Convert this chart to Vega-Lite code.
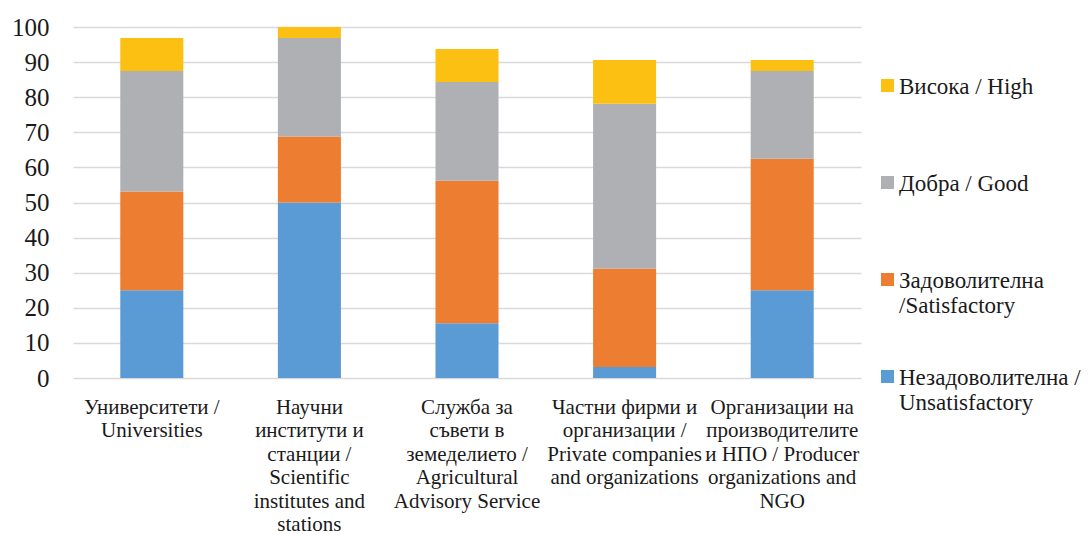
{
  "$schema": "https://vega.github.io/schema/vega-lite/v6.json",
  "width": 788,
  "height": 351,
  "autosize": {"type": "none"},
  "padding": {"left": 73, "top": 27, "right": 228, "bottom": 156},
  "background": "white",
  "config": {"view": {"stroke": null}, "font": "Liberation Serif"},
  "data": {
    "values": [
      {"cat": "Университети /|Universities", "rating": "Незадоволителна /|Unsatisfactory", "ord": 1, "value": 25},
      {"cat": "Университети /|Universities", "rating": "Задоволителна|/Satisfactory", "ord": 2, "value": 28.1},
      {"cat": "Университети /|Universities", "rating": "Добра / Good", "ord": 3, "value": 34.4},
      {"cat": "Университети /|Universities", "rating": "Висока / High", "ord": 4, "value": 9.4},
      {"cat": "Научни|институти и|станции /|Scientific|institutes and|stations", "rating": "Незадоволителна /|Unsatisfactory", "ord": 1, "value": 50},
      {"cat": "Научни|институти и|станции /|Scientific|institutes and|stations", "rating": "Задоволителна|/Satisfactory", "ord": 2, "value": 18.8},
      {"cat": "Научни|институти и|станции /|Scientific|institutes and|stations", "rating": "Добра / Good", "ord": 3, "value": 28.1},
      {"cat": "Научни|институти и|станции /|Scientific|institutes and|stations", "rating": "Висока / High", "ord": 4, "value": 3.1},
      {"cat": "Служба за|съвети в|земеделието /|Agricultural|Advisory Service", "rating": "Незадоволителна /|Unsatisfactory", "ord": 1, "value": 15.6},
      {"cat": "Служба за|съвети в|земеделието /|Agricultural|Advisory Service", "rating": "Задоволителна|/Satisfactory", "ord": 2, "value": 40.6},
      {"cat": "Служба за|съвети в|земеделието /|Agricultural|Advisory Service", "rating": "Добра / Good", "ord": 3, "value": 28.1},
      {"cat": "Служба за|съвети в|земеделието /|Agricultural|Advisory Service", "rating": "Висока / High", "ord": 4, "value": 9.4},
      {"cat": "Частни фирми и|организации /|Private companies|and organizations", "rating": "Незадоволителна /|Unsatisfactory", "ord": 1, "value": 3.1},
      {"cat": "Частни фирми и|организации /|Private companies|and organizations", "rating": "Задоволителна|/Satisfactory", "ord": 2, "value": 28.1},
      {"cat": "Частни фирми и|организации /|Private companies|and organizations", "rating": "Добра / Good", "ord": 3, "value": 46.9},
      {"cat": "Частни фирми и|организации /|Private companies|and organizations", "rating": "Висока / High", "ord": 4, "value": 12.5},
      {"cat": "Организации на|производителите|и НПО / Producer|organizations and|NGO", "rating": "Незадоволителна /|Unsatisfactory", "ord": 1, "value": 25},
      {"cat": "Организации на|производителите|и НПО / Producer|organizations and|NGO", "rating": "Задоволителна|/Satisfactory", "ord": 2, "value": 37.5},
      {"cat": "Организации на|производителите|и НПО / Producer|organizations and|NGO", "rating": "Добра / Good", "ord": 3, "value": 25},
      {"cat": "Организации на|производителите|и НПО / Producer|organizations and|NGO", "rating": "Висока / High", "ord": 4, "value": 3.1}
    ]
  },
  "mark": {"type": "bar"},
  "encoding": {
    "x": {
      "field": "cat",
      "type": "nominal",
      "sort": null,
      "scale": {"paddingInner": 0.6, "paddingOuter": 0.3},
      "axis": {
        "title": null,
        "labelAngle": 0,
        "labelExpr": "split(datum.label, '|')",
        "labelFontSize": 21,
        "labelLineHeight": 23.5,
        "labelBaseline": "top",
        "labelPadding": 18,
        "ticks": false,
        "domain": false,
        "labelLimit": 0,
        "labelOverlap": false,
        "labelColor": "#1a1a1a",
        "labelFont": "Liberation Serif"
      }
    },
    "y": {
      "field": "value",
      "type": "quantitative",
      "stack": "zero",
      "scale": {"domain": [0, 100], "nice": false},
      "axis": {
        "title": null,
        "values": [0, 10, 20, 30, 40, 50, 60, 70, 80, 90, 100],
        "labelFontSize": 25,
        "labelPadding": 24,
        "labelColor": "#1a1a1a",
        "labelFont": "Liberation Serif",
        "ticks": false,
        "domain": false,
        "gridColor": "#d9d9d9",
        "gridWidth": 1.5
      }
    },
    "color": {
      "field": "rating",
      "type": "nominal",
      "scale": {
        "domain": ["Висока / High", "Добра / Good", "Задоволителна|/Satisfactory", "Незадоволителна /|Unsatisfactory"],
        "range": ["#FCC013", "#AFB0B3", "#ED7D31", "#5B9BD5"]
      },
      "legend": {
        "title": null,
        "orient": "none",
        "legendX": 803,
        "legendY": 37,
        "padding": 0,
        "gridAlign": "all",
        "rowPadding": 37,
        "symbolType": "M-1,0.54H1V2.54H-1Z",
        "symbolSize": 169,
        "symbolStrokeWidth": 0,
        "labelExpr": "split(datum.label, '|')",
        "labelFontSize": 23,
        "labelLineHeight": 27,
        "labelBaseline": "top",
        "labelOffset": 0,
        "labelLimit": 0,
        "labelColor": "#1a1a1a",
        "labelFont": "Liberation Serif"
      }
    },
    "order": {"field": "ord", "type": "quantitative"}
  }
}
